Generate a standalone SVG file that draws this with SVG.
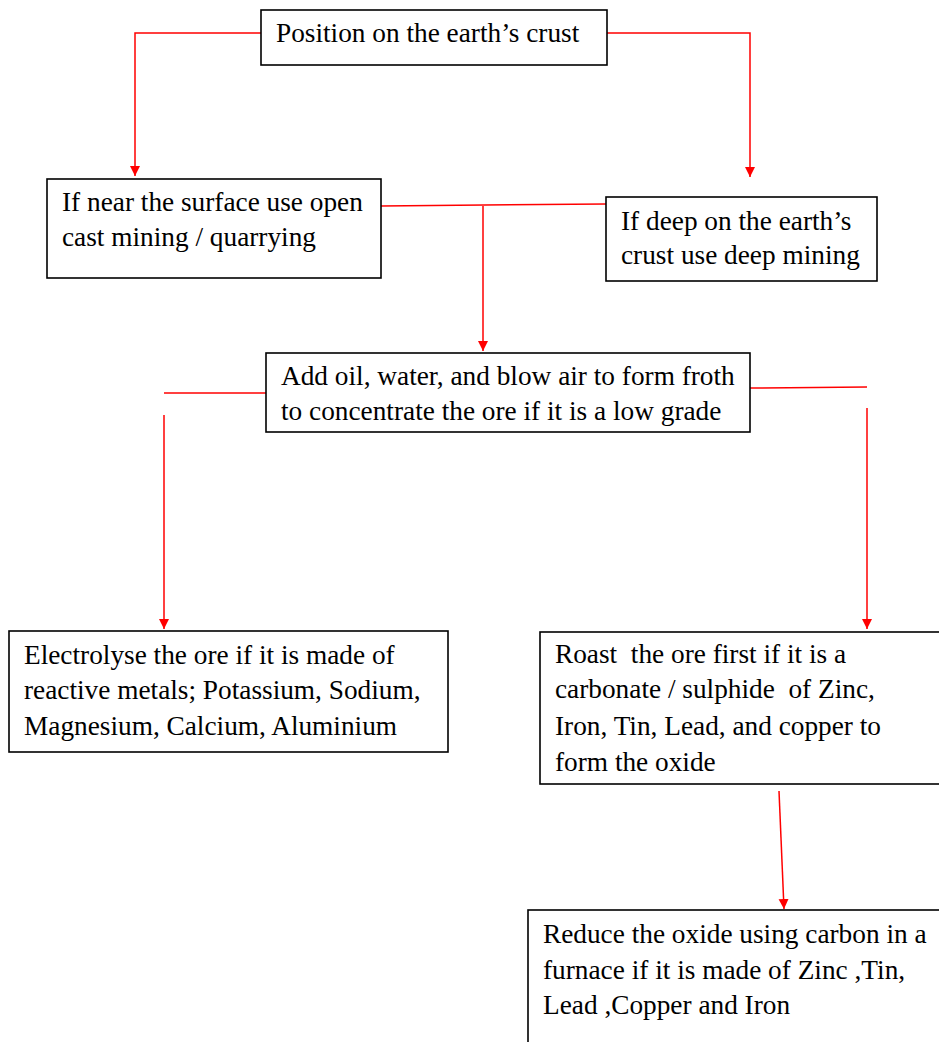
<svg xmlns="http://www.w3.org/2000/svg" width="939" height="1042" viewBox="0 0 939 1042">
<defs>
<marker id="ah" markerWidth="12" markerHeight="12" refX="10" refY="5" orient="auto" markerUnits="userSpaceOnUse">
<path d="M0,0 L10,5 L0,10 Z" fill="#ff0000"/>
</marker>
<style>
.box{fill:#ffffff;stroke:#000000;stroke-width:1.6}
.c{fill:none;stroke:#ff0000;stroke-width:1.5}
</style>
</defs>
<rect width="939" height="1042" fill="#ffffff"/>
<g id="connectors">
<path class="c" d="M261,33 L135,33 L135,176" marker-end="url(#ah)"/>
<path class="c" d="M607,33 L750,33 L750,177" marker-end="url(#ah)"/>
<path class="c" d="M381,206 L606,204"/>
<path class="c" d="M483,206 L483,351" marker-end="url(#ah)"/>
<path class="c" d="M266,393 L164,393"/>
<path class="c" d="M164,415 L164,629" marker-end="url(#ah)"/>
<path class="c" d="M750,388 L867,387"/>
<path class="c" d="M867,408 L867,629" marker-end="url(#ah)"/>
<path class="c" d="M779,791 L784,909" marker-end="url(#ah)"/>
</g>
<g font-family="Liberation Serif, Times New Roman, serif" font-size="27.3" fill="#000000">
<g id="n1">
<rect class="box" x="261" y="10" width="346" height="55"/>
<text x="276" y="42">Position on the earth’s crust</text>
</g>
<g id="n2">
<rect class="box" x="47" y="179" width="334" height="99"/>
<text x="62" y="211">If near the surface use open</text>
<text x="62" y="246">cast mining / quarrying</text>
</g>
<g id="n3">
<rect class="box" x="606" y="197" width="271" height="84"/>
<text x="621" y="230">If deep on the earth’s</text>
<text x="621" y="264">crust use deep mining</text>
</g>
<g id="n4">
<rect class="box" x="266" y="353" width="484" height="79"/>
<text x="281" y="385">Add oil, water, and blow air to form froth</text>
<text x="281" y="420">to concentrate the ore if it is a low grade</text>
</g>
<g id="n5">
<rect class="box" x="9" y="631" width="439" height="121"/>
<text x="24" y="664">Electrolyse the ore if it is made of</text>
<text x="24" y="699">reactive metals; Potassium, Sodium,</text>
<text x="24" y="735">Magnesium, Calcium, Aluminium</text>
</g>
<g id="n6">
<rect class="box" x="540" y="632" width="410" height="152"/>
<text x="555" y="663" xml:space="preserve">Roast  the ore first if it is a</text>
<text x="555" y="698" xml:space="preserve">carbonate / sulphide  of Zinc,</text>
<text x="555" y="735">Iron, Tin, Lead, and copper to</text>
<text x="555" y="771">form the oxide</text>
</g>
<g id="n7">
<rect class="box" x="528" y="910" width="422" height="140"/>
<text x="543" y="943">Reduce the oxide using carbon in a</text>
<text x="543" y="979">furnace if it is made of Zinc ,Tin,</text>
<text x="543" y="1014">Lead ,Copper and Iron</text>
</g>
</g>
</svg>
